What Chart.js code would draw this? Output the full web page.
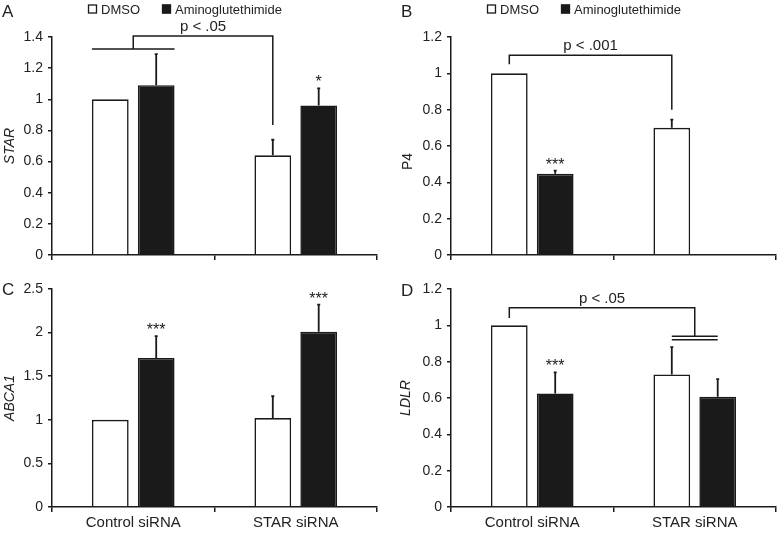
<!DOCTYPE html>
<html>
<head>
<meta charset="utf-8">
<script src="https://cdn.jsdelivr.net/npm/chart.js@4.4.1/dist/chart.umd.min.js"></script>
<style>
html, body { margin: 0; padding: 0; background: #fff; }
#wrap { position: relative; width: 777px; height: 533px; overflow: hidden; }
.panel { position: absolute; }
</style>
</head>
<body>
<div id="wrap">
  <div class="panel" style="left:0;top:0"><canvas id="chartA" width="388" height="270"></canvas></div>
  <div class="panel" style="left:388px;top:0"><canvas id="chartB" width="389" height="270"></canvas></div>
  <div class="panel" style="left:0;top:270px"><canvas id="chartC" width="388" height="263"></canvas></div>
  <div class="panel" style="left:388px;top:270px"><canvas id="chartD" width="389" height="263"></canvas></div>
</div>
<script>
// values (relative expression, mean + SEM)
const categories = ['Control siRNA', 'STAR siRNA'];
const seriesNames = ['DMSO', 'Aminoglutethimide'];

const starDmso = [1.00, 0.64];
const starDmsoErr = [0, 0.10];
const starAmino = [1.09, 0.96];
const starAminoErr = [0.20, 0.11];
const starAminoStars = ['', '*'];

const p4Dmso = [1.00, 0.70];
const p4DmsoErr = [0, 0.045];
const p4Amino = [0.447, null];
const p4AminoErr = [0.017, null];
const p4AminoStars = ['***', ''];

const abcaDmso = [1.00, 1.02];
const abcaDmsoErr = [0, 0.25];
const abcaAmino = [1.71, 2.01];
const abcaAminoErr = [0.25, 0.31];
const abcaAminoStars = ['***', '***'];

const ldlrDmso = [1.00, 0.73];
const ldlrDmsoErr = [0, 0.15];
const ldlrAmino = [0.625, 0.607];
const ldlrAminoErr = [0.116, 0.097];
const ldlrAminoStars = ['***', ''];

Chart.defaults.font.family = '"Liberation Sans", Arial, sans-serif';
Chart.defaults.color = '#222';

const ink = '#1a1a1a';

// x position helper: dataset index (0/1), 'mid' of group, 'l'/'r' outer edges
function xAt(chart, cat, at) {
  const b0 = chart.getDatasetMeta(0).data[cat];
  const b1 = chart.getDatasetMeta(1).data[cat];
  if (at === 'mid') return (b0.x + b1.x) / 2;
  if (at === 'l') return b0.x - b0.width / 2;
  if (at === 'r') return b1.x + b1.width / 2;
  return [b0, b1][at].x;
}

const annotate = {
  id: 'annotate',
  afterDatasetsDraw(chart, args, o) {
    const ctx = chart.ctx;
    const ys = chart.scales.y;
    ctx.save();
    ctx.strokeStyle = ink;
    ctx.fillStyle = ink;
    ctx.lineWidth = 1.8;
    // error bars + significance stars
    chart.data.datasets.forEach((ds, i) => {
      chart.getDatasetMeta(i).data.forEach((bar, j) => {
        const v = ds.data[j];
        if (v == null) return;
        const e = ds.err[j] || 0;
        const yTop = ys.getPixelForValue(v + e);
        if (e) {
          ctx.beginPath();
          ctx.moveTo(bar.x, ys.getPixelForValue(v));
          ctx.lineTo(bar.x, yTop);
          ctx.moveTo(bar.x - 1.5, yTop);
          ctx.lineTo(bar.x + 1.5, yTop);
          ctx.stroke();
        }
        if (ds.stars && ds.stars[j]) {
          ctx.font = '16px "Liberation Sans", Arial, sans-serif';
          ctx.textAlign = 'center';
          ctx.textBaseline = 'alphabetic';
          ctx.fillText(ds.stars[j], bar.x, yTop - 1);
        }
      });
    });
    // comparison bracket
    const br = o.bracket;
    if (br) {
      const xl = xAt(chart, br.left.cat, br.left.at);
      const xr = xAt(chart, br.right.cat, br.right.at);
      const yt = ys.getPixelForValue(br.top);
      ctx.lineWidth = 1.5;
      ctx.beginPath();
      ctx.moveTo(xl, ys.getPixelForValue(br.left.bottom));
      ctx.lineTo(xl, yt);
      ctx.lineTo(xr, yt);
      ctx.lineTo(xr, ys.getPixelForValue(br.right.bottom));
      ctx.stroke();
      (br.cross || []).forEach(c => {
        const x1 = xAt(chart, c.cat, c.from), x2 = xAt(chart, c.cat, c.to);
        c.y.forEach(v => {
          const yy = ys.getPixelForValue(v);
          ctx.beginPath();
          ctx.moveTo(x1, yy);
          ctx.lineTo(x2, yy);
          ctx.stroke();
        });
      });
      ctx.fillStyle = '#222';
      ctx.font = '15px "Liberation Sans", Arial, sans-serif';
      ctx.textAlign = 'center';
      ctx.textBaseline = 'alphabetic';
      ctx.fillText(br.label, (xl + xr) / 2, yt - 5);
    }
    ctx.restore();
  },
  afterDraw(chart, args, o) {
    const ctx = chart.ctx;
    ctx.save();
    ctx.fillStyle = '#222';
    ctx.textAlign = 'left';
    ctx.textBaseline = 'alphabetic';
    ctx.font = '17px "Liberation Sans", Arial, sans-serif';
    ctx.fillText(o.letter, o.letterX, o.letterY);
    if (o.legend) {
      ctx.font = '13px "Liberation Sans", Arial, sans-serif';
      ctx.textBaseline = 'middle';
      let x = chart.chartArea.left + 36;
      const yc = 9;
      chart.data.datasets.forEach(ds => {
        ctx.fillStyle = ds.backgroundColor;
        ctx.fillRect(x, yc - 4.5, 9, 9);
        ctx.strokeStyle = ink;
        ctx.lineWidth = 1.3;
        ctx.strokeRect(x + 0.5, yc - 4, 8, 8);
        ctx.fillStyle = '#222';
        ctx.fillText(ds.label, x + 13, yc + 1);
        x += 13 + ctx.measureText(ds.label).width + 22;
      });
    }
    ctx.restore();
  }
};

function makePanel(id, p) {
  new Chart(document.getElementById(id), {
    type: 'bar',
    data: {
      labels: categories,
      datasets: [
        {
          label: seriesNames[0], data: p.dmso, err: p.dmsoErr,
          backgroundColor: '#ffffff', borderColor: ink, borderWidth: 1.6,
          categoryPercentage: 0.565, barPercentage: 0.8
        },
        {
          label: seriesNames[1], data: p.amino, err: p.aminoErr, stars: p.stars,
          backgroundColor: ink, borderColor: ink, borderWidth: 1.6,
          categoryPercentage: 0.565, barPercentage: 0.8
        }
      ]
    },
    options: {
      responsive: false,
      animation: false,
      layout: { padding: p.pad },
      plugins: {
        legend: { display: false },
        tooltip: { enabled: false },
        annotate: {
          letter: p.letter, letterX: p.letterX, letterY: p.letterY,
          legend: p.legend, bracket: p.bracket
        }
      },
      scales: {
        x: {
          grid: { display: true, offset: true, drawOnChartArea: false, drawTicks: true, tickLength: 5, color: ink, lineWidth: 1.5 },
          border: { color: ink, width: 1.5 },
          ticks: { display: p.xLabels, padding: 2, color: '#222', font: { size: 15 } },
          afterFit(scale) { scale.height = p.xHeight; }
        },
        y: {
          min: 0, max: p.max,
          grid: { drawOnChartArea: false, drawTicks: true, tickLength: 4, color: ink, lineWidth: 1.5 },
          border: { color: ink, width: 1.5 },
          ticks: {
            stepSize: p.step, padding: 5, color: '#222', font: { size: 14 },
            callback: v => String(Math.round(v * 10) / 10)
          },
          title: { display: true, text: p.title, color: '#222', padding: 2, font: { size: 14, style: p.italic ? 'italic' : 'normal' } },
          afterFit(scale) { scale.width = p.yWidth; }
        }
      }
    },
    plugins: [annotate]
  });
}

makePanel('chartA', {
  dmso: starDmso, dmsoErr: starDmsoErr, amino: starAmino, aminoErr: starAminoErr, stars: starAminoStars,
  max: 1.4, step: 0.2, title: 'STAR', italic: true,
  pad: { left: 0, right: 11, top: 37, bottom: 7 }, yWidth: 52, xHeight: 8, xLabels: false,
  letter: 'A', letterX: 2, letterY: 17, legend: true,
  bracket: {
    top: 1.407, label: 'p < .05',
    left: { cat: 0, at: 'mid', bottom: 1.323 },
    right: { cat: 1, at: 0, bottom: 0.835 },
    cross: [{ cat: 0, from: 'l', to: 'r', y: [1.323] }]
  }
});

makePanel('chartB', {
  dmso: p4Dmso, dmsoErr: p4DmsoErr, amino: p4Amino, aminoErr: p4AminoErr, stars: p4AminoStars,
  max: 1.2, step: 0.2, title: 'P4' + '\u00a0'.repeat(8), italic: false,
  pad: { left: 10, right: 1, top: 37, bottom: 7 }, yWidth: 53, xHeight: 8, xLabels: false,
  letter: 'B', letterX: 13, letterY: 17, legend: true,
  bracket: {
    top: 1.10, label: 'p < .001',
    left: { cat: 0, at: 0, bottom: 1.05 },
    right: { cat: 1, at: 0, bottom: 0.80 }
  }
});

makePanel('chartC', {
  dmso: abcaDmso, dmsoErr: abcaDmsoErr, amino: abcaAmino, aminoErr: abcaAminoErr, stars: abcaAminoStars,
  max: 2.5, step: 0.5, title: 'ABCA1', italic: true,
  pad: { left: 0, right: 11, top: 19, bottom: 6 }, yWidth: 52, xHeight: 20, xLabels: true,
  letter: 'C', letterX: 2, letterY: 25, legend: false
});

makePanel('chartD', {
  dmso: ldlrDmso, dmsoErr: ldlrDmsoErr, amino: ldlrAmino, aminoErr: ldlrAminoErr, stars: ldlrAminoStars,
  max: 1.2, step: 0.2, title: 'LDLR', italic: true,
  pad: { left: 8, right: 1, top: 19, bottom: 6 }, yWidth: 55, xHeight: 20, xLabels: true,
  letter: 'D', letterX: 13, letterY: 26, legend: false,
  bracket: {
    top: 1.097, label: 'p < .05',
    left: { cat: 0, at: 0, bottom: 1.04 },
    right: { cat: 1, at: 'mid', bottom: 0.94 },
    cross: [{ cat: 1, from: 0, to: 1, y: [0.94, 0.92] }]
  }
});
</script>
</body>
</html>
